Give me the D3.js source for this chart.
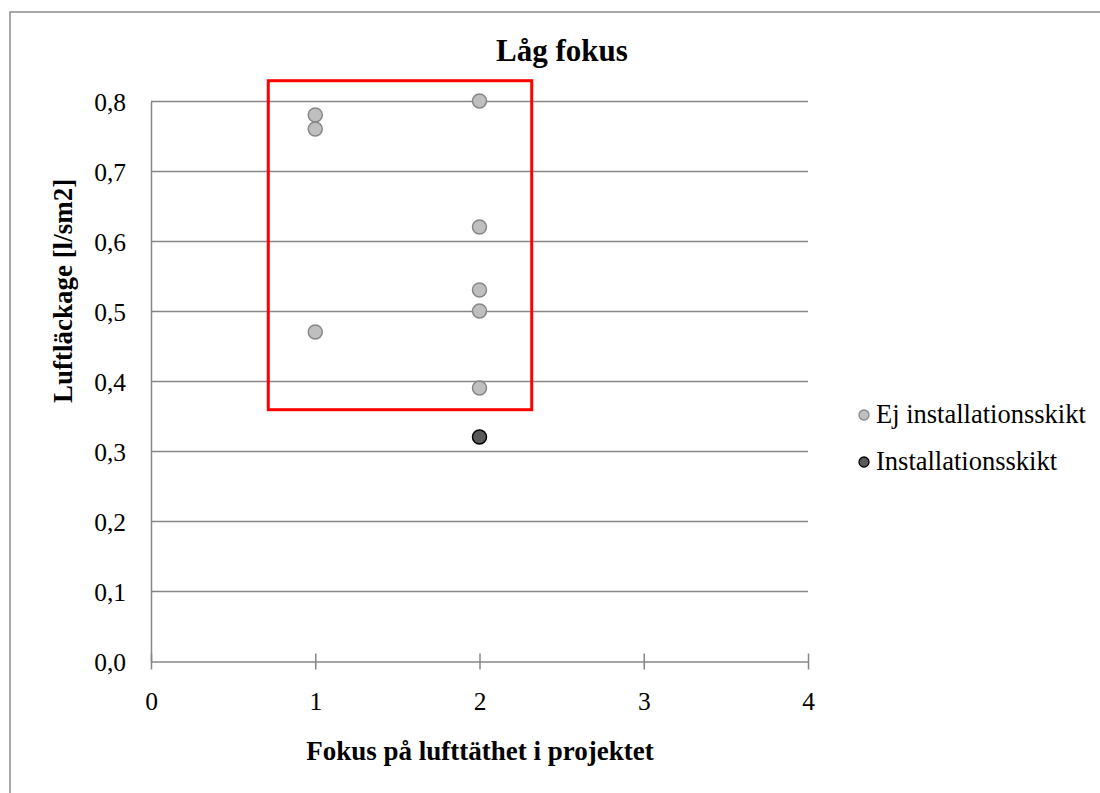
<!DOCTYPE html>
<html>
<head>
<meta charset="utf-8">
<script src="https://cdn.jsdelivr.net/npm/d3@7"></script>
<style>
  html, body { margin: 0; padding: 0; background: #fff; }
  svg { display: block; }
  svg text { font-family: "Liberation Serif", "Times New Roman", serif; fill: #000; }
</style>
</head>
<body>
<svg id="chart" width="1100" height="793"></svg>
<script>
// Series: focus level (x) vs air leakage (y)
const ejX = [1, 1, 1, 2, 2, 2, 2, 2];
const ejY = [0.78, 0.76, 0.47, 0.80, 0.62, 0.53, 0.50, 0.39];
const instX = [2];
const instY = [0.32];

const seriesNames = ["Ej installationsskikt", "Installationsskikt"];
const xTicks = [0, 1, 2, 3, 4];
const yTicks = [0, 0.1, 0.2, 0.3, 0.4, 0.5, 0.6, 0.7, 0.8];

// Highlight box (data units)
const boxX = [0.714, 2.318];
const boxY = [0.359, 0.829];

const svg = d3.select("#chart");
const W = 1100, H = 793;
const SERIF = '"Liberation Serif", "Times New Roman", serif';

// Outer chart frame
svg.append("rect")
  .attr("x", 10).attr("y", 12)
  .attr("width", W + 20).attr("height", H + 20)
  .attr("fill", "#fff").attr("stroke", "#8c8c8c").attr("stroke-width", 1.5);

const x = d3.scaleLinear().domain([0, 4]).range([151, 808]);
const y = d3.scaleLinear().domain([0, 0.8]).range([661, 101]);

const axisColor = "#868686";
const fmt = d => d3.format(".1f")(d).replace(".", ",");

// Horizontal gridlines
svg.append("g").selectAll("line")
  .data(yTicks.filter(d => d > 0))
  .join("line")
  .attr("x1", x(0)).attr("x2", x(4))
  .attr("y1", d => Math.round(y(d)) + 0.5).attr("y2", d => Math.round(y(d)) + 0.5)
  .attr("stroke", axisColor).attr("stroke-width", 1.5);

// Y axis
const yAxis = svg.append("g")
  .attr("transform", `translate(${x(0)},0.5)`)
  .call(d3.axisLeft(y).tickValues(yTicks).tickFormat(fmt).tickSize(0).tickPadding(25));
yAxis.attr("font-family", null);
yAxis.select(".domain").attr("stroke", axisColor).attr("stroke-width", 1.5);
yAxis.selectAll("text")
  .style("font-family", SERIF).style("font-size", "25.5px")
  .attr("fill", "#000").attr("dy", "0.36em");

// X axis with ticks crossing the line
const xAxis = svg.append("g")
  .attr("transform", `translate(0,${Math.round(y(0)) + 0.5})`)
  .call(d3.axisBottom(x).tickValues(xTicks).tickFormat(d3.format("d")).tickSizeInner(8).tickSizeOuter(0).tickPadding(22));
xAxis.attr("font-family", null);
xAxis.select(".domain").attr("stroke", axisColor).attr("stroke-width", 1.5);
xAxis.selectAll(".tick line").attr("y1", -8).attr("y2", 8)
  .attr("stroke", axisColor).attr("stroke-width", 1.5);
xAxis.selectAll("text")
  .style("font-family", SERIF).style("font-size", "25.5px")
  .attr("fill", "#000");

// Highlight rectangle
svg.append("rect")
  .attr("x", x(boxX[0])).attr("y", y(boxY[1]))
  .attr("width", x(boxX[1]) - x(boxX[0]))
  .attr("height", y(boxY[0]) - y(boxY[1]))
  .attr("fill", "none").attr("stroke", "#ff0000").attr("stroke-width", 3);

// Points
const ejStyle = { fill: "#bfbfbf", stroke: "#878787" };
const instStyle = { fill: "#5a5a5a", stroke: "#000" };

svg.append("g").selectAll("circle")
  .data(ejX.map((v, i) => [v, ejY[i]]))
  .join("circle")
  .attr("cx", d => x(d[0])).attr("cy", d => y(d[1])).attr("r", 7)
  .attr("fill", ejStyle.fill).attr("stroke", ejStyle.stroke).attr("stroke-width", 1.5);

svg.append("g").selectAll("circle")
  .data(instX.map((v, i) => [v, instY[i]]))
  .join("circle")
  .attr("cx", d => x(d[0])).attr("cy", d => y(d[1])).attr("r", 7)
  .attr("fill", instStyle.fill).attr("stroke", instStyle.stroke).attr("stroke-width", 1.5);

// Title
svg.append("text")
  .attr("x", 562).attr("y", 61)
  .attr("text-anchor", "middle")
  .style("font-family", SERIF).style("font-size", "31px").style("font-weight", "bold")
  .text("Låg fokus");

// Axis titles
svg.append("text")
  .attr("x", 480).attr("y", 760)
  .attr("text-anchor", "middle")
  .style("font-family", SERIF).style("font-size", "27px").style("font-weight", "bold")
  .text("Fokus på lufttäthet i projektet");

svg.append("text")
  .attr("transform", "translate(72,291) rotate(-90)")
  .attr("text-anchor", "middle")
  .style("font-family", SERIF).style("font-size", "27px").style("font-weight", "bold")
  .text("Luftläckage [l/sm2]");

// Legend
const legend = svg.append("g");
const legendItems = [
  { name: seriesNames[0], style: ejStyle, cy: 415 },
  { name: seriesNames[1], style: instStyle, cy: 462 }
];
legendItems.forEach(it => {
  legend.append("circle")
    .attr("cx", 864).attr("cy", it.cy).attr("r", 5)
    .attr("fill", it.style.fill).attr("stroke", it.style.stroke).attr("stroke-width", 1.3);
  legend.append("text")
    .attr("x", 876).attr("y", it.cy + 8)
    .style("font-family", SERIF).style("font-size", "26.5px")
    .text(it.name);
});
</script>
</body>
</html>
